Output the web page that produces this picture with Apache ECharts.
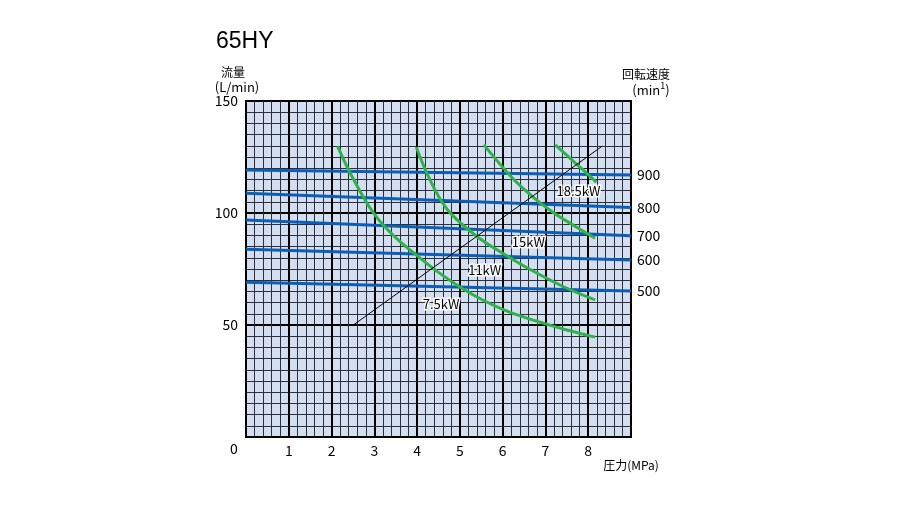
<!DOCTYPE html>
<html>
<head>
<meta charset="utf-8">
<script src="https://cdn.jsdelivr.net/npm/echarts@6/dist/echarts.min.js"></script>
<style>html,body{margin:0;padding:0;background:#fff;}#c{width:900px;height:507px;}</style>
</head>
<body>
<div id="c"></div>
<script>
// ---- data ----
const xTicks = [0, 1, 2, 3, 4, 5, 6, 7, 8];
const yTicks = [0, 50, 100, 150];

// rotation-speed lines (min^-1): flow at pressure 0 and at pressure 9
const rpmNames = ['900', '800', '700', '600', '500'];
const rpmPressure = [0, 9];
const rpmFlowStart = [119.2, 108.8, 96.9, 83.8, 69.1];
const rpmFlowEnd = [117.0, 102.5, 89.8, 79.0, 65.2];

// power curves
const kwNames = ['7.5kW', '11kW', '15kW', '18.5kW'];
const kw75P = [2.14, 2.5, 3.0, 3.5, 4.0, 4.5, 5.0, 5.5, 6.0, 6.5, 7.0, 7.5, 8.16];
const kw75Q = [129.9, 115.5, 99.5, 89.0, 81.0, 73.5, 67.0, 61.5, 57.0, 53.5, 50.5, 47.8, 44.6];
const kw11P = [3.98, 4.2, 4.5, 4.8, 5.4, 6.0, 6.6, 7.4, 8.16];
const kw11Q = [129.5, 119.0, 107.5, 99.5, 89.5, 82.0, 75.2, 67.3, 61.2];
const kw15P = [5.56, 6.21, 6.67, 7.14, 7.70, 8.16];
const kw15Q = [130.4, 116.0, 107.8, 100.8, 94.0, 88.8];
const kw185P = [7.23, 7.70, 8.19];
const kw185Q = [130.4, 122.3, 113.8];
// label anchor points for power curves (data units)
const kwLabelP = [4.56, 5.58, 6.60, 7.77];
const kwLabelQ = [59.4, 74.6, 87.1, 109.8];

// thin diagonal reference line
const diagP = [2.51, 8.33];
const diagQ = [50, 129.9];

// ---- chart ----
const FONT = '"Noto Sans CJK JP", "Liberation Sans", sans-serif';
const chart = echarts.init(document.getElementById('c'), null, {renderer: 'canvas'});
const zip = (a, b) => a.map((v, i) => [v, b[i]]);

const series = [];
rpmNames.forEach((n, i) => {
  series.push({
    name: n, type: 'line', symbol: 'none', z: 3,
    data: zip(rpmPressure, [rpmFlowStart[i], rpmFlowEnd[i]]),
    lineStyle: {color: '#0b5db5', width: 3},
    endLabel: {show: true, formatter: n, color: '#000', fontSize: 14, fontFamily: FONT, distance: 6},
    silent: true, animation: false
  });
});
const kwP = [kw75P, kw11P, kw15P, kw185P];
const kwQ = [kw75Q, kw11Q, kw15Q, kw185Q];
kwNames.forEach((n, i) => {
  series.push({
    name: n, type: 'line', symbol: 'none', smooth: 0.4, z: 4,
    data: zip(kwP[i], kwQ[i]),
    lineStyle: {color: '#2eb24a', width: 3},
    markPoint: {
      symbol: 'circle', symbolSize: 0,
      data: [{coord: [kwLabelP[i], kwLabelQ[i]], value: n}],
      label: {show: true, position: 'inside', formatter: n, color: '#000', fontSize: 13, fontFamily: FONT,
              textBorderColor: '#fff', textBorderWidth: 3}
    },
    silent: true, animation: false
  });
});
series.push({
  name: 'diag', type: 'line', symbol: 'none', z: 5,
  data: zip(diagP, diagQ),
  lineStyle: {color: '#000', width: 1},
  silent: true, animation: false
});

chart.setOption({
  animation: false,
  backgroundColor: '#fff',
  grid: {left: 246, right: 269, top: 101, bottom: 70, show: true,
         backgroundColor: '#d4def1', borderColor: '#000', borderWidth: 2},
  xAxis: {
    type: 'value', min: 0, max: 9, interval: 1,
    axisLine: {show: true, lineStyle: {color: '#000', width: 2}},
    axisTick: {show: false},
    axisLabel: {color: '#000', fontSize: 14, fontFamily: FONT, margin: 7,
      formatter: v => (xTicks.indexOf(v) > 0 ? String(v) : '')},
    splitLine: {show: true, lineStyle: {color: '#000', width: 2}},
    minorTick: {show: false, splitNumber: 5},
    minorSplitLine: {show: true, lineStyle: {color: '#2e2e38', width: 1}}
  },
  yAxis: {
    type: 'value', min: 0, max: 150, interval: 50,
    axisLine: {show: true, lineStyle: {color: '#000', width: 2}},
    axisTick: {show: false},
    axisLabel: {color: '#000', fontSize: 14, fontFamily: FONT, margin: 8,
      formatter: v => (yTicks.indexOf(v) > 0 ? String(v) : '')},
    splitLine: {show: true, lineStyle: {color: '#000', width: 2}},
    minorTick: {show: false, splitNumber: 10},
    minorSplitLine: {show: true, lineStyle: {color: '#2e2e38', width: 1}}
  },
  series: series,
  graphic: [
    {type: 'text', left: 216, top: 30, style: {text: '65HY', font: '23px "Liberation Sans", sans-serif', fill: '#000'}},
    {type: 'text', x: 233, y: 72, style: {text: '流量', font: '12px ' + FONT, fill: '#000', align: 'center', verticalAlign: 'middle'}},
    {type: 'text', x: 237, y: 87, style: {text: '(L/min)', font: '13px ' + FONT, fill: '#000', align: 'center', verticalAlign: 'middle'}},
    {type: 'text', x: 646, y: 74, style: {text: '回転速度', font: '12px ' + FONT, fill: '#000', align: 'center', verticalAlign: 'middle'}},
    {type: 'text', x: 651, y: 90, style: {
      text: '(min{s|1})', font: '13px ' + FONT, fill: '#000', align: 'center', verticalAlign: 'middle',
      rich: {s: {fontSize: 9, verticalAlign: 'top', padding: [0, 0, 8, 0], fontFamily: FONT}}}},
    {type: 'text', x: 234, y: 449, style: {text: '0', font: '14px ' + FONT, fill: '#000', align: 'center', verticalAlign: 'middle'}},
    {type: 'text', x: 631, y: 465, style: {text: '圧力(MPa)', font: '12px ' + FONT, fill: '#000', align: 'center', verticalAlign: 'middle'}}
  ]
});
</script>
</body>
</html>
